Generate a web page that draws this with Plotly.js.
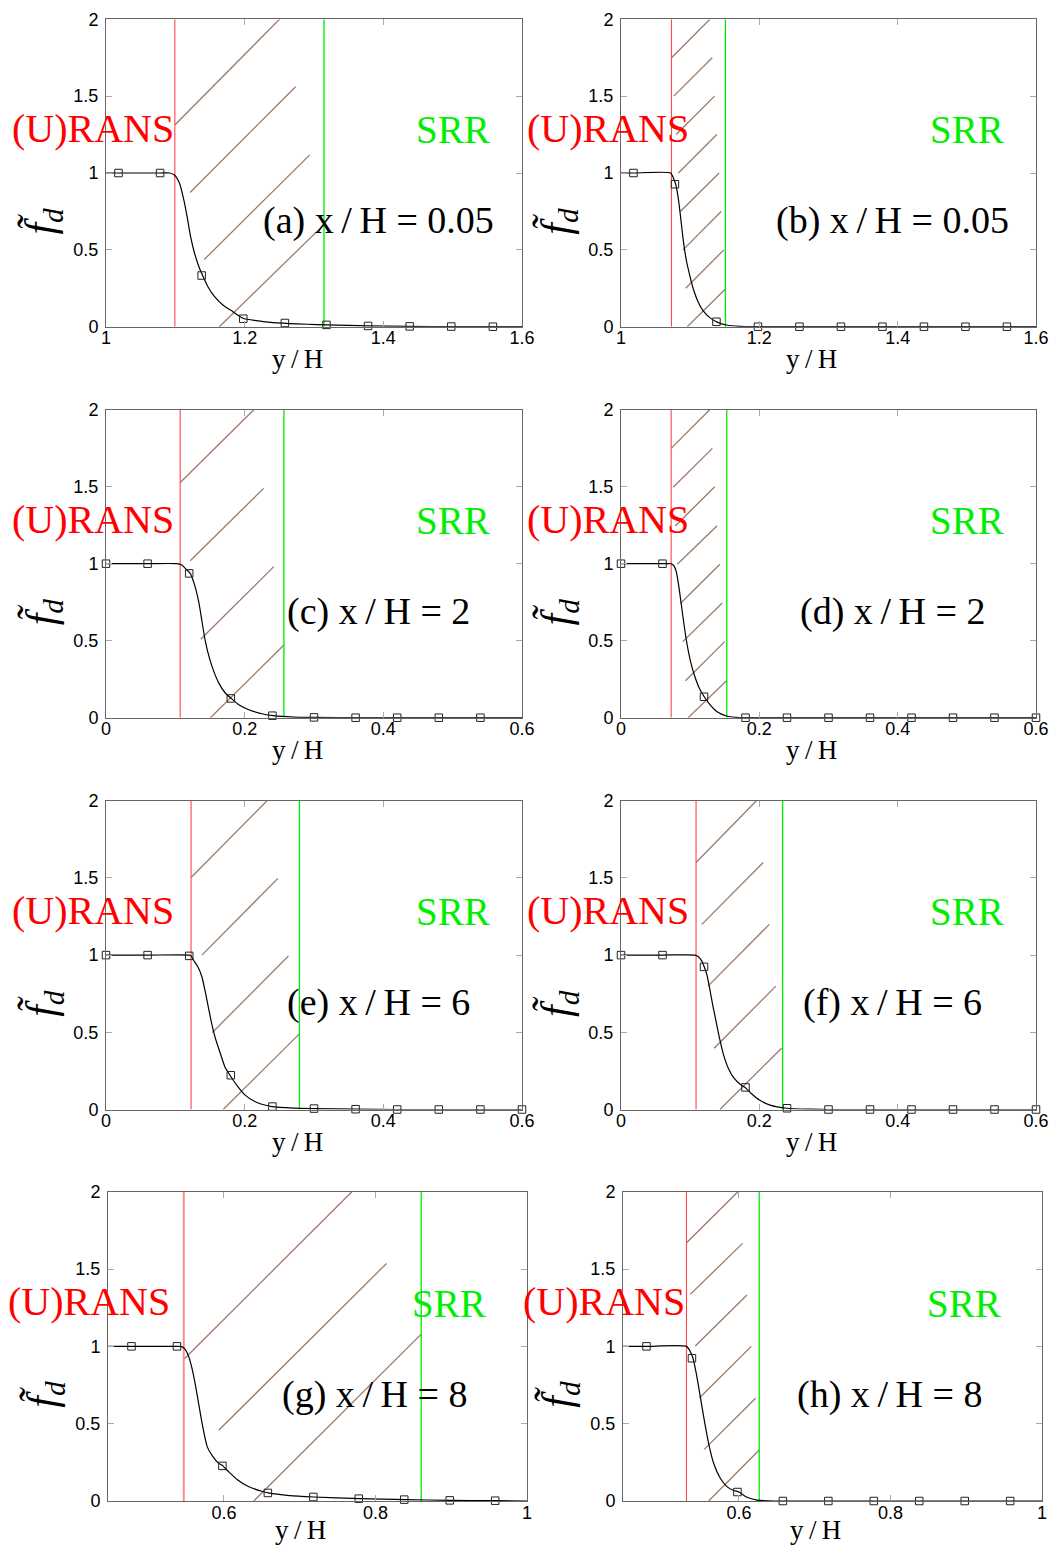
<!DOCTYPE html>
<html><head><meta charset="utf-8">
<script src="https://cdn.plot.ly/plotly-3.0.1.min.js"></script>
<style>html,body{margin:0;padding:0;background:#fff}#chart{width:1057px;height:1548px}</style>
</head><body><div id="chart"></div>
<script>
// ---------- DATA ----------
const panelLetters = ['a','b','c','d','e','f','g','h'];
const panelXoverH  = ['0.05','0.05','2','2','6','6','8','8'];

const xRangeRow1 = [1, 1.6];
const xRangeRow23 = [0, 0.6];
const xRangeRow4 = [0.447, 1];
const xTicksRow1 = [1, 1.2, 1.4, 1.6];
const xTickTextRow1 = ['1', '1.2', '1.4', '1.6'];
const xTicksRow23 = [0, 0.2, 0.4, 0.6];
const xTickTextRow23 = ['0', '0.2', '0.4', '0.6'];
const xTicksRow4 = [0.6, 0.8, 1];
const xTickTextRow4 = ['0.6', '0.8', '1'];
const yTicks = [0, 0.5, 1, 1.5, 2];
const yTickText = ['0', '0.5', '1', '1.5', '2'];

// (U)RANS limit (red) and SRR limit (green), y/H
const redLine   = [1.0993, 1.073, 0.107, 0.0725, 0.1227, 0.1085, 0.547, 0.5308];
const greenLine = [1.3144, 1.151, 0.2566, 0.1529, 0.279, 0.2337, 0.8604, 0.6268];

// continuous f_d curves
const aCurveX = [1.0, 1.018, 1.078, 1.0915, 1.0988, 1.106, 1.1123, 1.117, 1.122, 1.1277, 1.134, 1.1397, 1.147, 1.1566, 1.1686, 1.183, 1.1986, 1.217, 1.241, 1.259, 1.29, 1.318, 1.35, 1.378, 1.438, 1.498, 1.558, 1.6];
const aCurveY = [1, 1, 1, 1, 0.987, 0.933, 0.824, 0.716, 0.586, 0.478, 0.390, 0.330, 0.260, 0.195, 0.141, 0.098, 0.053, 0.039, 0.026, 0.022, 0.016, 0.012, 0.008, 0.005, 0.002, 0.001, 0, 0];
const bCurveX = [1.0, 1.018, 1.0717, 1.076, 1.079, 1.0809, 1.0838, 1.0872, 1.0906, 1.0944, 1.0993, 1.105, 1.1114, 1.1186, 1.1283, 1.139, 1.1525, 1.172, 1.2, 1.6];
const bCurveY = [1, 1, 1, 0.965, 0.928, 0.889, 0.803, 0.672, 0.542, 0.434, 0.336, 0.239, 0.163, 0.104, 0.059, 0.030, 0.011, 0.002, 0, 0];
const cCurveX = [0, 0.06, 0.102, 0.1093, 0.1166, 0.1215, 0.1278, 0.1337, 0.1385, 0.1434, 0.1493, 0.1556, 0.1629, 0.1717, 0.1805, 0.1922, 0.2068, 0.2263, 0.2415, 0.2702, 0.3015, 0.36, 0.6];
const cCurveY = [1, 1, 1, 0.991, 0.959, 0.937, 0.861, 0.753, 0.623, 0.494, 0.385, 0.299, 0.223, 0.162, 0.1255, 0.082, 0.050, 0.024, 0.013, 0.004, 0.002, 0, 0];
const dCurveX = [0, 0.06, 0.0725, 0.0764, 0.0799, 0.0833, 0.0873, 0.0912, 0.0957, 0.1006, 0.106, 0.1129, 0.1203, 0.1292, 0.139, 0.1514, 0.1662, 0.18, 0.6];
const dCurveY = [1, 1, 1, 0.987, 0.948, 0.861, 0.732, 0.602, 0.472, 0.364, 0.277, 0.195, 0.136, 0.082, 0.039, 0.013, 0.002, 0, 0];
const eCurveX = [0, 0.06, 0.12, 0.1227, 0.1262, 0.1325, 0.1383, 0.1432, 0.148, 0.1529, 0.1578, 0.1641, 0.1715, 0.1788, 0.1885, 0.2007, 0.2153, 0.2392, 0.2713, 0.2996, 0.359, 0.42, 0.6];
const eCurveY = [1, 1, 1, 0.995, 0.968, 0.924, 0.860, 0.762, 0.654, 0.546, 0.460, 0.374, 0.276, 0.222, 0.158, 0.093, 0.050, 0.019, 0.009, 0.006, 0.002, 0, 0];
const fCurveX = [0, 0.06, 0.107, 0.1119, 0.1169, 0.1203, 0.1243, 0.1282, 0.1326, 0.1376, 0.1425, 0.1484, 0.1553, 0.1637, 0.1736, 0.1795, 0.1884, 0.2007, 0.2155, 0.2396, 0.2747, 0.2998, 0.6];
const fCurveY = [1, 1, 1, 0.989, 0.961, 0.924, 0.870, 0.784, 0.676, 0.568, 0.460, 0.352, 0.266, 0.201, 0.158, 0.143, 0.104, 0.060, 0.028, 0.008, 0.002, 0, 0];
const gCurveX = [0.447, 0.478, 0.538, 0.5423, 0.5469, 0.5529, 0.5574, 0.562, 0.5666, 0.5721, 0.578, 0.585, 0.5927, 0.5986, 0.6064, 0.6178, 0.6316, 0.6499, 0.6586, 0.6865, 0.7185, 0.779, 0.8394, 0.8993, 0.9597, 1.0];
const gCurveY = [1, 1, 1, 1, 0.991, 0.943, 0.867, 0.759, 0.630, 0.479, 0.350, 0.290, 0.245, 0.227, 0.188, 0.138, 0.095, 0.063, 0.052, 0.035, 0.026, 0.015, 0.009, 0.004, 0.002, 0];
const hCurveX = [0.447, 0.478, 0.5309, 0.5358, 0.5393, 0.5437, 0.549, 0.5542, 0.56, 0.5666, 0.5754, 0.5842, 0.593, 0.6, 0.6106, 0.6238, 0.6458, 1.0];
const hCurveY = [1, 1, 1, 0.966, 0.925, 0.825, 0.675, 0.524, 0.373, 0.244, 0.147, 0.093, 0.068, 0.058, 0.024, 0.006, 0, 0];

// square symbols
const abMarkX = [1.018, 1.078, 1.138, 1.198, 1.258, 1.318, 1.378, 1.438, 1.498, 1.558];
const aMarkY = [1, 1, 0.333, 0.052, 0.024, 0.012, 0.005, 0.002, 0.001, 0];
const bMarkY = [1, 0.927, 0.032, 0, 0, 0, 0, 0, 0, 0];
const cMarkX = [0, 0.06, 0.12, 0.18, 0.24, 0.30, 0.36, 0.42, 0.48, 0.54];
const cMarkY = [1, 1, 0.937, 0.125, 0.013, 0.002, 0, 0, 0, 0];
const defMarkX = [0, 0.06, 0.12, 0.18, 0.24, 0.30, 0.36, 0.42, 0.48, 0.54, 0.6];
const dMarkY = [1, 1, 0.136, 0, 0, 0, 0, 0, 0, 0, 0];
const eMarkY = [1, 1, 0.995, 0.222, 0.019, 0.006, 0.002, 0, 0, 0, 0];
const fMarkY = [1, 1, 0.924, 0.143, 0.008, 0, 0, 0, 0, 0, 0];
const ghMarkX = [0.478, 0.538, 0.598, 0.658, 0.718, 0.778, 0.838, 0.898, 0.958];
const gMarkY = [1, 1, 0.227, 0.052, 0.026, 0.015, 0.009, 0.004, 0.002];
const hMarkY = [1, 0.923, 0.058, 0, 0, 0, 0, 0, 0];

// hatch segments of the grey zone: [x0, y0, x1, y1]
const aHatch = [[1.0993,1.312,1.2501,2.0],[1.1212,0.8735,1.2735,1.561],[1.1416,0.4368,1.2939,1.118],[1.1635,0,1.3144,0.664]];
const bHatch = [[1.0731,1.75,1.1284,2.0],[1.0764,1.5,1.1319,1.75],[1.0797,1.25,1.1352,1.5],[1.083,1.0,1.1385,1.25],[1.0857,0.75,1.1419,1.0],[1.0896,0.5,1.1448,0.75],[1.0935,0.25,1.1487,0.5],[1.0958,0,1.151,0.245]];
const cHatch = [[0.1068,1.526,0.2132,2.0],[0.1215,1.019,0.2273,1.489],[0.1366,0.509,0.242,0.981],[0.1507,0,0.2566,0.472]];
const dHatch = [[0.0725,1.749,0.1282,2.0],[0.0754,1.496,0.1321,1.749],[0.0784,1.245,0.1356,1.5],[0.0814,0.996,0.139,1.247],[0.0858,0.742,0.143,0.996],[0.0893,0.494,0.1464,0.745],[0.0932,0.240,0.1499,0.494],[0.0971,0,0.1529,0.242]];
const eHatch = [[0.1227,1.503,0.2323,2.0],[0.1383,1.0,0.2479,1.497],[0.1534,0.499,0.2631,0.994],[0.169,0,0.279,0.490]];
const fHatch = [[0.1085,1.600,0.1958,2.0],[0.1169,1.199,0.2056,1.600],[0.1257,0.799,0.2145,1.199],[0.1346,0.397,0.2239,0.799],[0.143,0,0.2322,0.397]];
const gHatch = [[0.5469,0.915,0.7689,2.0],[0.5931,0.457,0.8146,1.536],[0.6394,0,0.8604,1.079]];
const hHatch = [[0.5309,1.670,0.5987,2.0],[0.5358,1.336,0.6048,1.666],[0.5424,1.002,0.6106,1.332],[0.5481,0.668,0.6163,1.0],[0.5542,0.334,0.622,0.664],[0.56,0,0.6268,0.330]];

// ---------- BUILD ----------
const curvesX = [aCurveX,bCurveX,cCurveX,dCurveX,eCurveX,fCurveX,gCurveX,hCurveX];
const curvesY = [aCurveY,bCurveY,cCurveY,dCurveY,eCurveY,fCurveY,gCurveY,hCurveY];
const marksX = [abMarkX,abMarkX,cMarkX,defMarkX,defMarkX,defMarkX,ghMarkX,ghMarkX];
const marksY = [aMarkY,bMarkY,cMarkY,dMarkY,eMarkY,fMarkY,gMarkY,hMarkY];
const hatches = [aHatch,bHatch,cHatch,dHatch,eHatch,fHatch,gHatch,hHatch];

const W = 1057, H = 1548;
const rowsPx = [[19.3,326.7],[409.7,717.7],[800.7,1109.5],[1191.7,1501]];
const colsPx = [[106,522],[621,1036]];
const colsPxRow4 = [[108,527],[623,1042]];

const RED = 'rgb(255,70,70)', GREEN = 'rgb(0,235,0)', HATCH = 'rgb(160,120,100)';
const tickFont = {family: 'Liberation Sans, Arial, sans-serif', size: 18, color: '#000'};
const serif = 'Liberation Serif, Times New Roman, serif';

const traces = [];
const layout = {
  width: W, height: H, autosize: false,
  margin: {l:0, r:0, t:0, b:0},
  paper_bgcolor: '#fff', plot_bgcolor: '#fff',
  showlegend: false,
  annotations: []
};

for (let i = 0; i < 8; i++) {
  const row = Math.floor(i / 2), col = i % 2;
  const n = i + 1;
  const xa = n === 1 ? 'x' : 'x' + n, ya = n === 1 ? 'y' : 'y' + n;
  const xk = n === 1 ? 'xaxis' : 'xaxis' + n, yk = n === 1 ? 'yaxis' : 'yaxis' + n;
  const cp = row === 3 ? colsPxRow4[col] : colsPx[col];
  const rp = rowsPx[row];
  let xr, xt, xtt;
  if (row === 0) { xr = xRangeRow1; xt = xTicksRow1; xtt = xTickTextRow1; }
  else if (row === 3) { xr = xRangeRow4; xt = xTicksRow4; xtt = xTickTextRow4; }
  else { xr = xRangeRow23; xt = xTicksRow23; xtt = xTickTextRow23; }

  layout[xk] = {
    domain: [cp[0]/W, cp[1]/W], range: xr, anchor: ya,
    showgrid: false, zeroline: false, showline: true, linecolor: '#666', linewidth: 1,
    mirror: 'allticks', ticks: 'inside', ticklen: 6, tickcolor: '#aaa', tickwidth: 1,
    tickvals: xt, ticktext: xtt, tickfont: tickFont, ticklabelstandoff: -5
  };
  layout[yk] = {
    domain: [(H - rp[1])/H, (H - rp[0])/H], range: [0, 2], anchor: xa,
    showgrid: false, zeroline: false, showline: true, linecolor: '#666', linewidth: 1,
    mirror: 'allticks', ticks: 'inside', ticklen: 6, tickcolor: '#aaa', tickwidth: 1,
    tickvals: yTicks, ticktext: yTickText, tickfont: tickFont, ticklabelstandoff: 3
  };

  // hatch
  const hx = [], hy = [];
  hatches[i].forEach(s => { hx.push(s[0], s[2], null); hy.push(s[1], s[3], null); });
  traces.push({x: hx, y: hy, xaxis: xa, yaxis: ya, mode: 'lines', line: {color: HATCH, width: 1.3}, hoverinfo: 'skip'});
  // limits
  const redStyle = i === 6 ? {color: 'rgb(255,140,140)', width: 2} : {color: RED, width: 1.1};
  traces.push({x: [redLine[i], redLine[i]], y: [0, 2], xaxis: xa, yaxis: ya, mode: 'lines', line: redStyle, hoverinfo: 'skip'});
  traces.push({x: [greenLine[i], greenLine[i]], y: [0, 2], xaxis: xa, yaxis: ya, mode: 'lines', line: {color: GREEN, width: 1.3}, hoverinfo: 'skip'});
  // curve
  traces.push({x: curvesX[i], y: curvesY[i], xaxis: xa, yaxis: ya, mode: 'lines', line: {color: '#000', width: 1.2, shape: 'spline', smoothing: 0.6}});
  // squares
  traces.push({x: marksX[i], y: marksY[i], xaxis: xa, yaxis: ya, mode: 'markers', marker: {symbol: 'square-open', size: 7.5, color: '#222', line: {width: 1, color: '#222'}}, cliponaxis: false});

  const xd = xa + ' domain', yd = ya + ' domain';
  layout.annotations.push({xref: xd, yref: yd, x: row === 3 ? 0.153 : 0.168, y: 0.645, xanchor: 'right', yanchor: 'middle', showarrow: false,
    text: '(U)RANS', font: {family: serif, size: 40, color: '#ff0000'}});
  layout.annotations.push({xref: xd, yref: yd, x: row === 3 ? 0.814 : 0.834, y: 0.64, xanchor: 'center', yanchor: 'middle', showarrow: false,
    text: 'SRR', font: {family: serif, size: 39, color: '#00ee00'}});
  layout.annotations.push({xref: xd, yref: yd, x: row === 3 ? 0.637 : 0.654, y: 0.345, xanchor: 'center', yanchor: 'middle', showarrow: false,
    text: '(' + panelLetters[i] + ') x\u2009/\u2009H = ' + panelXoverH[i], font: {family: serif, size: 38, color: '#000'}});
  layout.annotations.push({xref: xd, yref: yd, x: 0.46, y: row === 3 ? -0.095 : -0.105, xanchor: 'center', yanchor: 'middle', showarrow: false,
    text: 'y\u2009/\u2009H', font: {family: serif, size: 27, color: '#000'}});
  layout.annotations.push({xref: xd, yref: yd, x: -0.15, y: 0.344, xanchor: 'center', yanchor: 'middle', showarrow: false, textangle: -90,
    text: '<i>f\u0303</i><sub><i>d</i></sub>', font: {family: serif, size: 42, color: '#000'}});
}

Plotly.newPlot('chart', traces, layout, {staticPlot: true, displayModeBar: false});
</script></body></html>
